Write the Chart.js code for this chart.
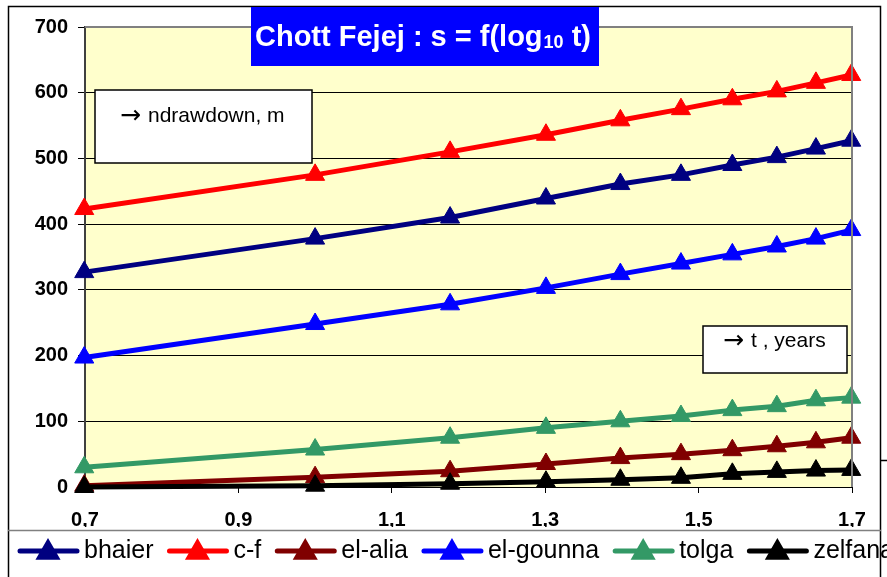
<!DOCTYPE html>
<html>
<head>
<meta charset="utf-8">
<script src="https://cdn.jsdelivr.net/npm/chart.js@4/dist/chart.umd.min.js"></script>
<style>
  html, body { margin: 0; padding: 0; background: #fff; overflow: hidden; }
  #wrap { width: 887px; height: 577px; position: relative; }
</style>
</head>
<body>
<div id="wrap"><canvas id="chart" width="887" height="577"></canvas></div>
<script>
// x = log10(t), t = 5 ... 50 years
const logT = [0.699, 1.0, 1.176, 1.301, 1.398, 1.477, 1.544, 1.602, 1.653, 1.699];
const xTicks = [0.7, 0.9, 1.1, 1.3, 1.5, 1.7];
const yTicks = [0, 100, 200, 300, 400, 500, 600, 700];

const bhaier   = [327, 378, 410, 439, 461, 475, 490, 502, 515, 527];
const cf       = [423, 475, 510, 536, 558, 575, 590, 602, 615, 627];
const elAlia   = [2, 15, 24, 35, 44, 50, 56, 62, 68, 75];
const elGounna = [197, 248, 278, 303, 324, 340, 354, 366, 378, 391];
const tolga    = [30, 57, 75, 90, 100, 108, 117, 123, 132, 136];
const zelfana  = [0, 2, 5, 8, 11, 14, 20, 23, 25, 26];

const seriesNames  = ['bhaier', 'c-f', 'el-alia', 'el-gounna', 'tolga', 'zelfana'];
const seriesValues = [bhaier, cf, elAlia, elGounna, tolga, zelfana];
const seriesColors = ['#000080', '#FF0000', '#800000', '#0000FF', '#339966', '#000000'];

const FONT = "'Liberation Sans', Arial, Helvetica, sans-serif";
const ARROW_FONT = "'DejaVu Sans', sans-serif";

const datasets = seriesNames.map((name, i) => ({
  label: name,
  data: logT.map((x, k) => ({ x, y: seriesValues[i][k] })),
  borderColor: seriesColors[i],
  backgroundColor: seriesColors[i],
  borderWidth: 5,
  borderJoinStyle: 'round',
  borderCapStyle: 'round',
  pointStyle: 'triangle',
  pointRadius: 11,
  pointBorderWidth: 1,
  tension: 0,
  clip: false,
  order: seriesNames.length - i,
}));

// background, frame, title, text boxes and legend
const decor = {
  id: 'decor',
  beforeDraw(chart) {
    const { ctx, chartArea: a } = chart;
    ctx.save();
    ctx.fillStyle = '#fff';
    ctx.fillRect(0, 0, chart.width, chart.height);
    ctx.fillStyle = '#FFFFCC';
    ctx.fillRect(a.left, a.top, a.right - a.left, a.bottom - a.top);
    ctx.restore();
  },
  afterDatasetsDraw(chart) {
    const { ctx, chartArea: a } = chart;
    ctx.save();
    // plot border top/right
    ctx.strokeStyle = '#808080';
    ctx.lineWidth = 2;
    ctx.beginPath();
    ctx.moveTo(a.left, a.top);
    ctx.lineTo(a.right, a.top);
    ctx.lineTo(a.right, a.bottom);
    ctx.stroke();

    // outer frame
    ctx.strokeStyle = '#000';
    ctx.lineWidth = 1.5;
    ctx.beginPath();
    ctx.moveTo(8.5, 577); ctx.lineTo(8.5, 6.5); ctx.lineTo(880.5, 6.5); ctx.lineTo(880.5, 577);
    ctx.moveTo(881, 460.5); ctx.lineTo(887, 460.5);
    ctx.stroke();
    ctx.strokeStyle = '#808080';
    ctx.beginPath();
    ctx.moveTo(8, 530.5); ctx.lineTo(881, 530.5);
    ctx.stroke();

    // title
    ctx.fillStyle = '#0000FF';
    ctx.fillRect(251, 7, 348, 59);
    ctx.fillStyle = '#fff';
    ctx.textBaseline = 'alphabetic';
    ctx.textAlign = 'left';
    let x = 255;
    ctx.font = 'bold 29px ' + FONT;
    const t1 = 'Chott Fejej : s = f(log';
    ctx.fillText(t1, x, 46);
    x += ctx.measureText(t1).width + 1;
    ctx.font = 'bold 18px ' + FONT;
    ctx.fillText('10', x, 48);
    x += ctx.measureText('10').width;
    ctx.font = 'bold 29px ' + FONT;
    ctx.fillText(' t)', x, 46);

    // text boxes
    [[95, 90, 217, 73, 'ndrawdown, m', 122, 122],
     [703, 326, 144, 47, 't , years', 725, 347]].forEach(([bx, by, bw, bh, txt, tx, ty]) => {
      ctx.fillStyle = '#fff';
      ctx.fillRect(bx, by, bw, bh);
      ctx.strokeStyle = '#000';
      ctx.lineWidth = 1.5;
      ctx.strokeRect(bx, by, bw, bh);
      ctx.fillStyle = '#000';
      ctx.font = '25px ' + ARROW_FONT;
      ctx.fillText('\u2192', tx - 2, ty + 1);
      ctx.font = '21px ' + FONT;
      ctx.fillText(txt, tx + 26, ty);
    });

    // legend
    ctx.font = '25px ' + FONT;
    let lx = 18;
    const ly = 551;
    seriesNames.forEach((name, i) => {
      ctx.strokeStyle = seriesColors[i];
      ctx.lineWidth = 5;
      ctx.lineCap = 'round';
      ctx.beginPath();
      ctx.moveTo(lx + 2, ly); ctx.lineTo(lx + 59, ly);
      ctx.stroke();
      Chart.helpers.drawPoint(ctx, { pointStyle: 'triangle', radius: 9.5, borderWidth: 1 }, lx + 30, ly + 1.5);
      ctx.fillStyle = seriesColors[i];
      ctx.fill();
      ctx.fillStyle = '#000';
      ctx.fillText(name, lx + 66, 558);
      lx += 66 + ctx.measureText(name).width + 14;
    });
    ctx.restore();
  }
};

new Chart(document.getElementById('chart'), {
  type: 'line',
  data: { datasets },
  options: {
    responsive: false,
    animation: false,
    devicePixelRatio: 1,
    layout: { padding: { left: 0, top: 27, right: 35, bottom: 50 } },
    plugins: { legend: { display: false }, tooltip: { enabled: false }, title: { display: false } },
    scales: {
      x: {
        type: 'linear',
        min: 0.7, max: 1.7,
        afterBuildTicks: s => { s.ticks = xTicks.map(v => ({ value: v })); },
        afterFit: s => { s.height = 40; },
        ticks: {
          callback: v => v.toFixed(1).replace('.', ','),
          font: { family: FONT, size: 20, weight: 'bold' },
          color: '#000',
          padding: 15,
          maxRotation: 0,
          autoSkip: false,
        },
        grid: { drawOnChartArea: false, drawTicks: true, tickLength: 6, color: '#000', lineWidth: 1 },
        border: { display: true, color: '#000', width: 1 },
      },
      y: {
        min: 0, max: 700,
        afterBuildTicks: s => { s.ticks = yTicks.map(v => ({ value: v })); },
        afterFit: s => { s.width = 85; },
        ticks: {
          font: { family: FONT, size: 20, weight: 'bold' },
          color: '#000',
          padding: 10,
        },
        grid: { color: '#000', lineWidth: 1, tickLength: 7, drawTicks: true },
        border: { display: true, color: '#404040', width: 2 },
      }
    }
  },
  plugins: [decor]
});
</script>
</body>
</html>
